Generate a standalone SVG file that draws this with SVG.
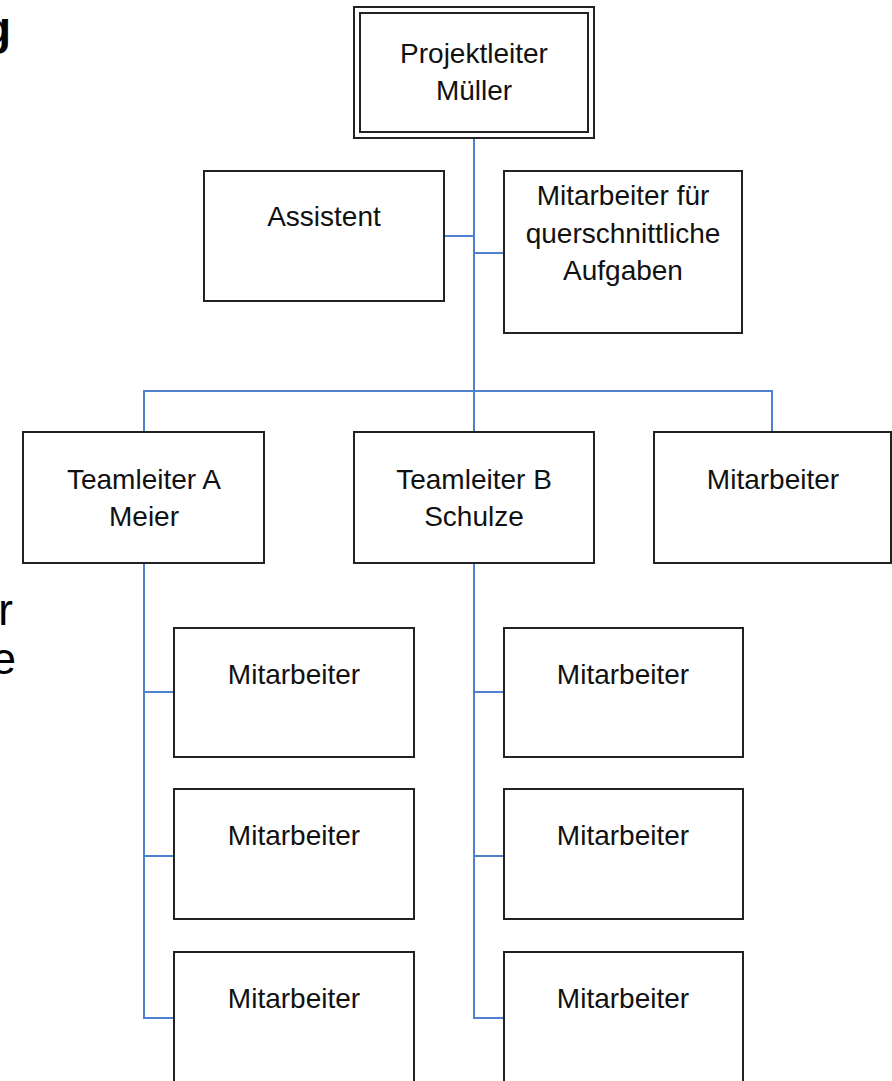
<svg xmlns="http://www.w3.org/2000/svg" width="892" height="1081" viewBox="0 0 892 1081">
<style>
.box{fill:#fff;stroke:#222;stroke-width:2}
.t{font-family:"Liberation Sans",Arial,sans-serif;font-size:28px;fill:#111;text-anchor:middle}
.c{fill:none;stroke:#4f81d0;stroke-width:2}
.cut{font-family:"Liberation Sans",Arial,sans-serif;fill:#000;text-anchor:end}
</style>
<rect width="892" height="1081" fill="#fff"/>
<text class="cut" x="11" y="44" font-size="46" font-weight="bold">g</text>
<text class="cut" x="13" y="625" font-size="44">r</text>
<text class="cut" x="16" y="674" font-size="44">e</text>
<g id="connectors">
<path class="c" d="M474 138V391M444 236H474M474 253H504M144 432V391H772V432M474 391V432"/>
<path class="c" d="M144 563V1018H174M144 692H174M144 856H174"/>
<path class="c" d="M474 563V1018H504M474 692H504M474 856H504"/>
</g>
<g id="projektleiter">
<rect class="box" x="354" y="7" width="240" height="131"/>
<rect class="box" x="360" y="13" width="228" height="119"/>
<text class="t" x="474" y="63">Projektleiter</text>
<text class="t" x="474" y="100">Müller</text>
</g>
<g id="assistent">
<rect class="box" x="204" y="171" width="240" height="130"/>
<text class="t" x="324" y="226">Assistent</text>
</g>
<g id="querschnitt">
<rect class="box" x="504" y="171" width="238" height="162"/>
<text class="t" x="623" y="205">Mitarbeiter für</text>
<text class="t" x="623" y="243">querschnittliche</text>
<text class="t" x="623" y="280">Aufgaben</text>
</g>
<g id="teamleiterA">
<rect class="box" x="23" y="432" width="241" height="131"/>
<text class="t" x="144" y="489">Teamleiter A</text>
<text class="t" x="144" y="526">Meier</text>
</g>
<g id="teamleiterB">
<rect class="box" x="354" y="432" width="240" height="131"/>
<text class="t" x="474" y="489">Teamleiter B</text>
<text class="t" x="474" y="526">Schulze</text>
</g>
<g id="mitarbeiterTop">
<rect class="box" x="654" y="432" width="237" height="131"/>
<text class="t" x="773" y="489">Mitarbeiter</text>
</g>
<g id="a1"><rect class="box" x="174" y="628" width="240" height="129"/><text class="t" x="294" y="684">Mitarbeiter</text></g>
<g id="a2"><rect class="box" x="174" y="789" width="240" height="130"/><text class="t" x="294" y="845">Mitarbeiter</text></g>
<g id="a3"><rect class="box" x="174" y="952" width="240" height="140"/><text class="t" x="294" y="1008">Mitarbeiter</text></g>
<g id="b1"><rect class="box" x="504" y="628" width="239" height="129"/><text class="t" x="623" y="684">Mitarbeiter</text></g>
<g id="b2"><rect class="box" x="504" y="789" width="239" height="130"/><text class="t" x="623" y="845">Mitarbeiter</text></g>
<g id="b3"><rect class="box" x="504" y="952" width="239" height="140"/><text class="t" x="623" y="1008">Mitarbeiter</text></g>
</svg>
